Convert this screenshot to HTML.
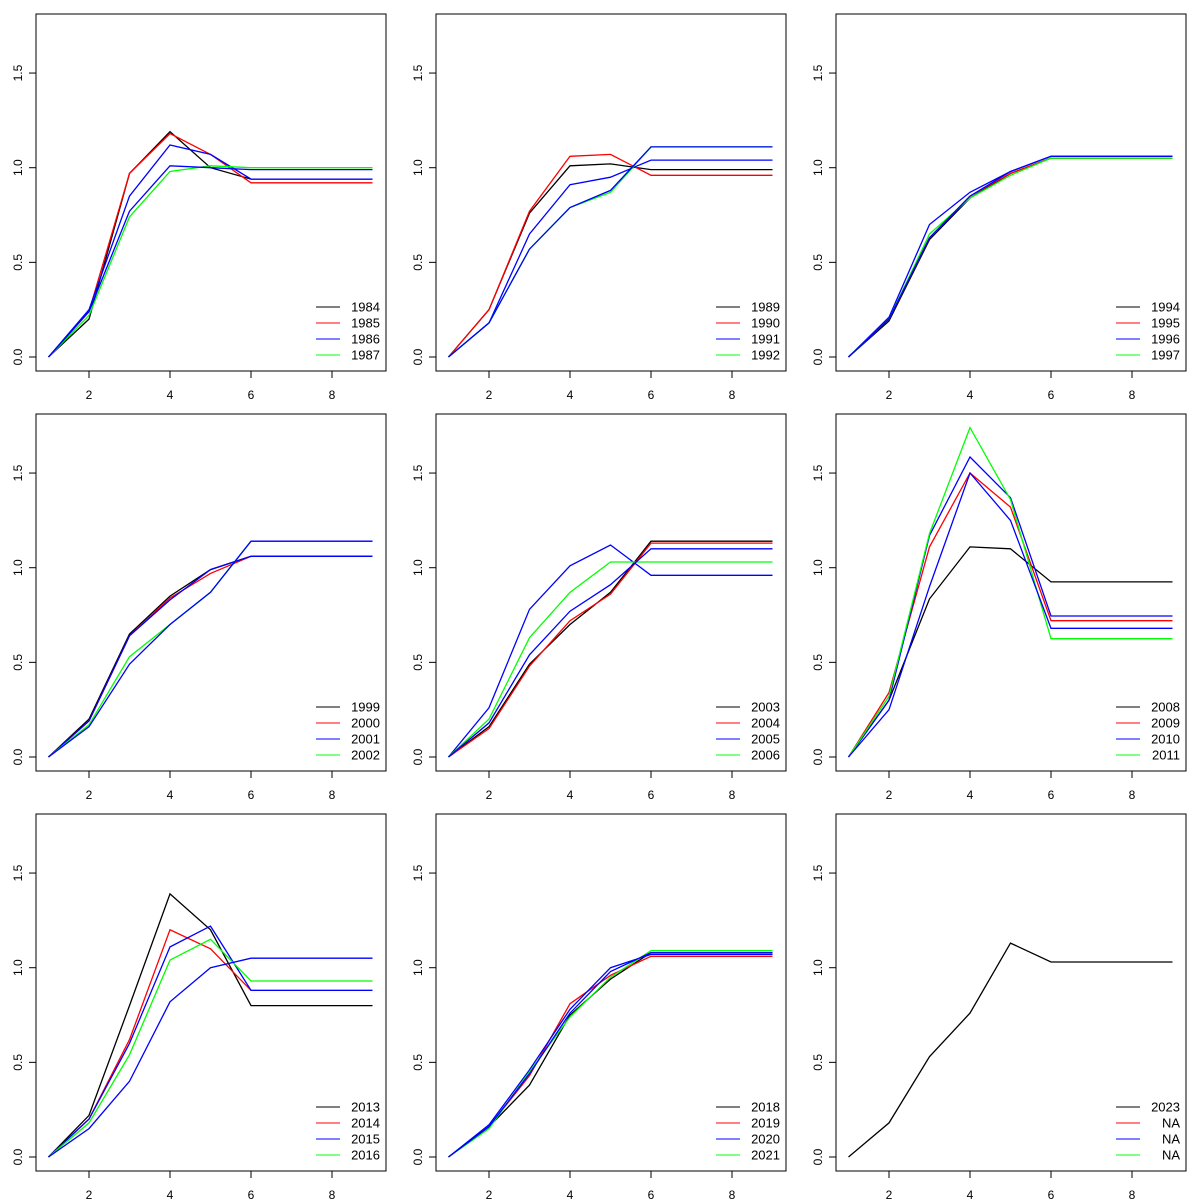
<!DOCTYPE html>
<html><head><meta charset="utf-8"><style>
html,body{margin:0;padding:0;background:#fff}
svg{display:block;font-family:"Liberation Sans",Arial,sans-serif}
</style></head><body>
<svg id="chart" width="1200" height="1200" viewBox="0 0 1200 1200"></svg>
<script>
const panelLegends = [
 ["1984","1985","1986","1987"],["1989","1990","1991","1992"],["1994","1995","1996","1997"],
 ["1999","2000","2001","2002"],["2003","2004","2005","2006"],["2008","2009","2010","2011"],
 ["2013","2014","2015","2016"],["2018","2019","2020","2021"],["2023","NA","NA","NA"]
];
const seriesColors = ["#000000","#ff0000","#0000ff","#00ff00","#0000ff"];
const xTicks = [2,4,6,8];
const yTicks = [0,0.5,1,1.5];
const yTickLabels = ["0.0","0.5","1.0","1.5"];
// values at x = 1..6 (constant afterwards through x=9)
const p1 = [[0,0.2,0.97,1.19,1.0,0.94],[0,0.24,0.97,1.18,1.07,0.92],[0,0.25,0.85,1.12,1.07,0.94],[0,0.22,0.74,0.98,1.01,1.0],[0,0.24,0.77,1.01,1.0,0.99]];
const p2 = [[0,0.25,0.76,1.01,1.02,0.99],[0,0.25,0.77,1.06,1.07,0.96],[0,0.18,0.65,0.91,0.95,1.04],[0,0.18,0.57,0.79,0.87,1.11],[0,0.18,0.57,0.79,0.88,1.11]];
const p3 = [[0,0.19,0.62,0.84,0.97,1.05],[0,0.2,0.63,0.85,0.97,1.05],[0,0.21,0.70,0.87,0.98,1.06],[0,0.2,0.65,0.84,0.96,1.05],[0,0.2,0.63,0.85,0.98,1.06]];
const p4 = [[0,0.2,0.65,0.85,0.99,1.06],[0,0.19,0.64,0.84,0.97,1.06],[0,0.19,0.64,0.83,0.99,1.06],[0,0.17,0.53,0.7,0.87,1.14],[0,0.16,0.49,0.7,0.87,1.14]];
const p5 = [[0,0.16,0.49,0.70,0.87,1.14],[0,0.15,0.48,0.72,0.86,1.13],[0,0.26,0.78,1.01,1.12,0.96],[0,0.2,0.63,0.87,1.03,1.03],[0,0.18,0.54,0.77,0.91,1.1]];
const p6 = [[0,0.3,0.835,1.11,1.10,0.925],[0,0.34,1.11,1.50,1.32,0.72],[0,0.3,1.17,1.585,1.37,0.745],[0,0.32,1.18,1.74,1.36,0.625],[0,0.25,0.9,1.5,1.25,0.68]];
const p7 = [[0,0.22,0.8,1.39,1.2,0.8],[0,0.2,0.62,1.2,1.1,0.88],[0,0.2,0.6,1.11,1.22,0.88],[0,0.18,0.54,1.04,1.15,0.93],[0,0.15,0.4,0.82,1.0,1.05]];
const p8 = [[0,0.16,0.38,0.75,0.94,1.08],[0,0.16,0.43,0.81,0.96,1.06],[0,0.17,0.46,0.78,1.0,1.07],[0,0.15,0.45,0.74,0.95,1.09],[0,0.16,0.44,0.76,0.98,1.08]];
const p9 = [[0,0.18,0.53,0.76,1.13,1.03]];
const panels = [p1,p2,p3,p4,p5,p6,p7,p8,p9];

const NS="http://www.w3.org/2000/svg";
const svg=document.getElementById('chart');
function mk(tag,attrs,parent){const e=document.createElementNS(NS,tag);for(const k in attrs)e.setAttribute(k,attrs[k]);parent.appendChild(e);return e;}

panels.forEach((data,i)=>{
  const col=i%3,row=Math.floor(i/3);
  const L=36+col*400,T=14+row*400,R=L+350,B=T+357;
  const xs=v=>L+12.5+(v-1)*40.5;
  const ys=v=>B-14-v*189.3;
  const g=mk('g',{},svg);
  
  
  const box=mk('rect',{x:L,y:T,width:350,height:357,fill:'none',stroke:'#000','stroke-width':1},g);
  
  
  yTicks.forEach((v,k)=>{
    const y=ys(v);
    const t=mk('line',{x1:L-7,x2:L,y1:y,y2:y,stroke:'#000','stroke-width':1},g);
    
    
    const tx=mk('text',{x:L-18,y:y,'font-size':12,'text-anchor':'middle',transform:`rotate(-90 ${L-18} ${y})`,'dominant-baseline':'central'},g);
    tx.textContent=yTickLabels[k];
    
    
  });
  xTicks.forEach(v=>{
    const x=xs(v);
    const t=mk('line',{x1:x,x2:x,y1:B,y2:B+7,stroke:'#000','stroke-width':1},g);
    
    
    const tx=mk('text',{x:x,y:B+28,'font-size':12,'text-anchor':'middle'},g);
    tx.textContent=String(v);
    
    
  });
  data.forEach((s,j)=>{
    const pts=[];
    for(let x=1;x<=9;x++){const v=s[Math.min(x-1,s.length-1)];pts.push(xs(x).toFixed(1)+','+ys(v).toFixed(1));}
    const p=mk('polyline',{points:pts.join(' '),fill:'none',stroke:seriesColors[j],'stroke-width':1.3},g);
    
    
  });
  panelLegends[i].forEach((lab,k)=>{
    const y=T+293+k*16;
    const ln=mk('line',{x1:L+280,x2:L+304,y1:y,y2:y,stroke:seriesColors[k],'stroke-width':1},g);
    
    
    const tx=mk('text',{x:L+344,y:y+4.5,'font-size':13,'text-anchor':'end'},g);
    tx.textContent=lab;
    
    
  });
});
</script>
</body></html>
